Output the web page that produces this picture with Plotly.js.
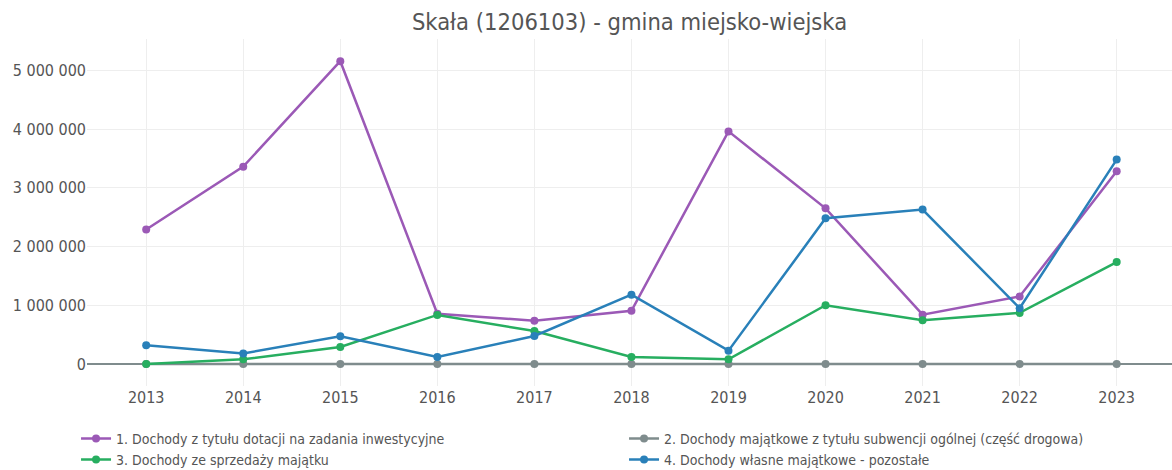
<!DOCTYPE html>
<html>
<head>
<meta charset="utf-8">
<script src="https://cdn.plot.ly/plotly-3.0.1.min.js"></script>
<style>html,body{margin:0;padding:0;background:#fff;}#chart{width:1172px;height:470px;}</style>
</head>
<body>
<div id="chart"></div>
<script>
const years = [2013, 2014, 2015, 2016, 2017, 2018, 2019, 2020, 2021, 2022, 2023];
const seriesNames = [
  "1. Dochody z tytułu dotacji na zadania inwestycyjne",
  "2. Dochody majątkowe z tytułu subwencji ogólnej (część drogowa)",
  "3. Dochody ze sprzedaży majątku",
  "4. Dochody własne majątkowe - pozostałe"
];
const dotacje = [2290000, 3360000, 5155000, 855000, 737000, 905000, 3960000, 2650000, 840000, 1150000, 3280000];
const subwencja = [0, 0, 0, 0, 0, 0, 0, 0, 0, 0, 0];
const sprzedaz = [0, 80000, 290000, 835000, 560000, 120000, 80000, 1000000, 745000, 870000, 1735000];
const pozostale = [320000, 180000, 470000, 120000, 476000, 1180000, 226000, 2480000, 2630000, 950000, 3480000];
const colors = ["#9b59b6", "#7f8c8d", "#27ae60", "#2980b9"];
const tickVals = [0, 1000000, 2000000, 3000000, 4000000, 5000000];
const tickText = ["0", "1 000 000", "2 000 000", "3 000 000", "4 000 000", "5 000 000"];

const FONT = "'DejaVu Sans Condensed', 'DejaVu Sans', sans-serif";
const data = [dotacje, subwencja, sprzedaz, pozostale].map((vals, i) => ({
  x: years, y: vals, name: seriesNames[i], type: "scatter", mode: "lines+markers",
  line: {color: colors[i], width: 2.5}, marker: {color: colors[i], size: 8}
}));
const layout = {
  width: 1172, height: 470,
  margin: {l: 87, r: 0, t: 39, b: 84, autoexpand: false},
  paper_bgcolor: "#fff", plot_bgcolor: "#fff",
  font: {family: FONT, color: "#555"},
  title: {text: "Skała (1206103) - gmina miejsko-wiejska", x: 0.5, xref: "paper", y: 0.953, yanchor: "middle", font: {size: 23.5, color: "#555", family: FONT}},
  xaxis: {range: [2012.39, 2023.57], tickmode: "array", tickvals: years, ticktext: years.map(String), showgrid: true, gridcolor: "#eee", zeroline: false, showline: false, tickfont: {size: 16, color: "#555"}},
  yaxis: {range: [-375000, 5533000], tickmode: "array", tickvals: tickVals, ticktext: tickText, showgrid: true, gridcolor: "#eee", zeroline: true, zerolinecolor: "#7f8c8d", zerolinewidth: 2, tickfont: {size: 16, color: "#555"}},
  legend: {orientation: "h", xref: "paper", x: -0.0101, xanchor: "left", y: -0.106, yanchor: "top", font: {size: 14, color: "#555"}, entrywidth: 503, entrywidthmode: "pixels"},
  showlegend: true
};
Plotly.newPlot("chart", data, layout, {displayModeBar: false, staticPlot: true});
</script>
</body>
</html>
